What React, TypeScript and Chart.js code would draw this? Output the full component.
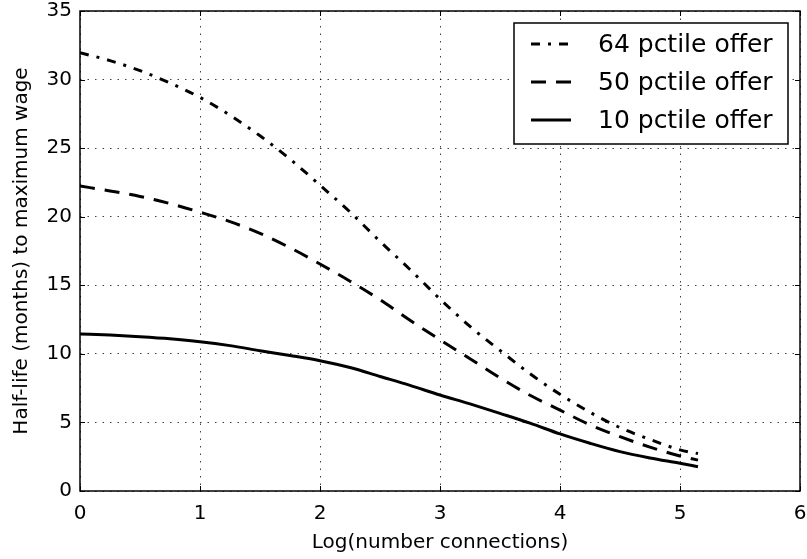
import React, { useEffect, useRef } from "react";
import { Chart, registerables } from "chart.js";

Chart.register(...registerables);

const xValues = [0, 0.25, 0.5, 0.75, 1, 1.25, 1.5, 1.75, 2, 2.25, 2.5, 2.75, 3, 3.25, 3.5, 3.75, 4, 4.25, 4.5, 4.75, 5, 5.15];
const p64 = [31.96, 31.38, 30.65, 29.75, 28.7, 27.4, 25.9, 24.2, 22.3, 20.35, 18.2, 16.15, 14.0, 12.0, 10.25, 8.55, 7.05, 5.74, 4.62, 3.76, 3.0, 2.73];
const p50 = [22.24, 21.88, 21.48, 20.96, 20.33, 19.64, 18.79, 17.74, 16.55, 15.3, 13.95, 12.45, 11.03, 9.65, 8.25, 6.98, 5.9, 4.82, 3.96, 3.2, 2.55, 2.25];
const p10 = [11.45, 11.37, 11.25, 11.1, 10.89, 10.6, 10.23, 9.88, 9.5, 9.0, 8.35, 7.7, 7.0, 6.35, 5.66, 4.95, 4.16, 3.48, 2.87, 2.41, 2.02, 1.77];
const seriesLabels = ["64 pctile offer", "50 pctile offer", "10 pctile offer"];
const seriesDashes: number[][] = [[9, 8, 3, 8], [15, 10], []];
const xTitle = "Log(number connections)";
const yTitle = "Half-life (months) to maximum wage";

const FONT = "'DejaVu Sans', sans-serif";

const framePlugin = {
  id: "frame",
  afterDatasetsDraw(chart: any) {
    const { ctx, chartArea, scales } = chart;
    const { left, right, top, bottom } = chartArea;
    ctx.save();
    ctx.strokeStyle = "#000";
    ctx.lineWidth = 1.5;
    ctx.setLineDash([]);
    ctx.strokeRect(left, top, right - left, bottom - top);
    // inward ticks
    ctx.lineWidth = 1;
    const tl = 5;
    scales.x.ticks.forEach((t: any) => {
      const px = Math.round(scales.x.getPixelForValue(t.value)) + 0.5;
      ctx.beginPath();
      ctx.moveTo(px, bottom);
      ctx.lineTo(px, bottom - tl);
      ctx.moveTo(px, top);
      ctx.lineTo(px, top + tl);
      ctx.stroke();
    });
    scales.y.ticks.forEach((t: any) => {
      const py = Math.round(scales.y.getPixelForValue(t.value)) + 0.5;
      ctx.beginPath();
      ctx.moveTo(left, py);
      ctx.lineTo(left + tl, py);
      ctx.moveTo(right, py);
      ctx.lineTo(right - tl, py);
      ctx.stroke();
    });
    // legend
    const bx = 514, by = 23, bw = 274, bh = 121;
    ctx.fillStyle = "#fff";
    ctx.fillRect(bx, by, bw, bh);
    ctx.lineWidth = 1.5;
    ctx.strokeRect(bx, by, bw, bh);
    ctx.font = `25px ${FONT}`;
    ctx.textBaseline = "middle";
    ctx.textAlign = "left";
    ctx.fillStyle = "#000";
    seriesLabels.forEach((lab, i) => {
      const cy = by + 21 + i * 38;
      ctx.lineWidth = 3;
      ctx.lineCap = "butt";
      ctx.setLineDash(seriesDashes[i]);
      ctx.beginPath();
      ctx.moveTo(bx + 17, cy);
      ctx.lineTo(bx + 57, cy);
      ctx.stroke();
      ctx.setLineDash([]);
      ctx.fillText(lab, bx + 84, cy + 1);
    });
    ctx.restore();
  },
};

export default function App() {
  const ref = useRef<HTMLCanvasElement | null>(null);
  useEffect(() => {
    document.body.style.margin = "0";
    const canvas = ref.current!;
    const mk = (ys: number[]) => xValues.map((x, i) => ({ x, y: ys[i] }));
    const chart = new Chart(canvas, {
      type: "line",
      data: {
        datasets: [p64, p50, p10].map((ys, i) => ({
          label: seriesLabels[i],
          data: mk(ys),
          borderColor: "#000",
          borderWidth: 3,
          borderDash: seriesDashes[i],
          borderCapStyle: "butt",
          pointRadius: 0,
          fill: false,
          cubicInterpolationMode: "monotone",
        })),
      },
      options: {
        animation: false,
        responsive: false,
        layout: { padding: { left: 0, right: 7, top: 11, bottom: 0 } },
        plugins: { legend: { display: false }, tooltip: { enabled: false } },
        scales: {
          x: {
            type: "linear",
            min: 0,
            max: 6,
            ticks: { stepSize: 1, color: "#000", font: { family: FONT, size: 20 }, padding: 11, maxRotation: 0 },
            grid: { color: "rgba(0,0,0,0.75)", lineWidth: 1, drawTicks: false },
            border: { display: false, dash: [1.5, 6] },
            title: { display: true, text: xTitle, color: "#000", font: { family: FONT, size: 20 }, padding: { top: 0, bottom: 4 } },
            afterFit: (s: any) => { s.height = 68; s.paddingLeft = 0; s.paddingRight = 0; },
          },
          y: {
            type: "linear",
            min: 0,
            max: 35,
            ticks: { stepSize: 5, color: "#000", font: { family: FONT, size: 20 }, padding: 8 },
            grid: { color: "rgba(0,0,0,0.75)", lineWidth: 1, drawTicks: false },
            border: { display: false, dash: [1.5, 6] },
            title: { display: true, text: yTitle, color: "#000", font: { family: FONT, size: 20 }, padding: { top: 10, bottom: 0 } },
            afterFit: (s: any) => { s.width = 80; s.paddingTop = 0; s.paddingBottom = 0; },
          },
        },
      } as any,
      plugins: [framePlugin],
    });
    return () => chart.destroy();
  }, []);
  return <canvas ref={ref} width={807} height={559} style={{ display: "block" }} />;
}
